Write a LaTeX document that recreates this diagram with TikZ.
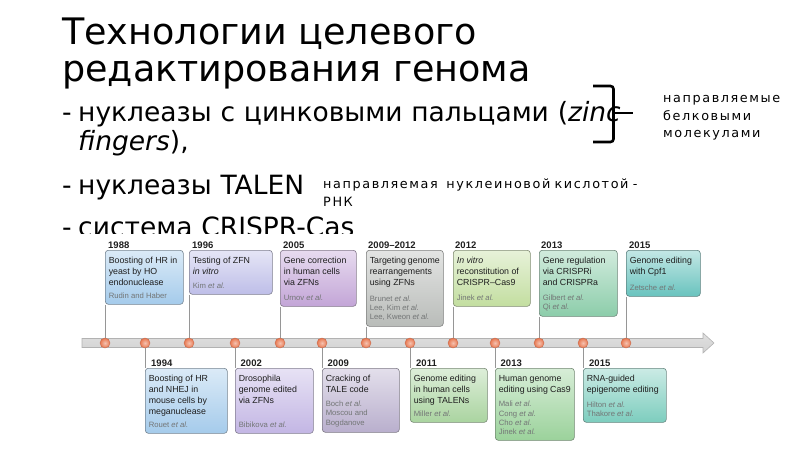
\documentclass[tikz,border=0pt]{standalone}
\usepackage{fontspec}
\setmainfont{DejaVu Sans}
\newfontfamily\boxfont{Liberation Sans}
\newfontfamily\notefont[LetterSpace=12.5]{DejaVu Sans}
\usetikzlibrary{positioning}

\definecolor{ink}{RGB}{30,30,30}
\definecolor{citegray}{RGB}{115,118,118}
\definecolor{dotcol}{RGB}{232,120,80}
\definecolor{dotedge}{RGB}{200,105,75}
\definecolor{stemgray}{RGB}{150,150,150}
% box colours, left to right
\definecolor{c88}{RGB}{165,203,235}
\definecolor{c96}{RGB}{190,190,232}
\definecolor{c05}{RGB}{195,165,215}
\definecolor{c0912}{RGB}{185,188,185}
\definecolor{c12}{RGB}{195,222,160}
\definecolor{c13}{RGB}{140,205,170}
\definecolor{c15}{RGB}{105,195,190}
\definecolor{c94}{RGB}{165,203,235}
\definecolor{c02}{RGB}{195,182,228}
\definecolor{c09}{RGB}{185,175,205}
\definecolor{c11}{RGB}{170,212,160}
\definecolor{c13b}{RGB}{155,210,155}
\definecolor{c15b}{RGB}{125,205,190}

\newcommand{\etal}{\textit{et al.}}
\newcommand{\citefont}{\fontsize{7.7}{9.3}\selectfont\color{citegray}}
\newcommand{\evtext}[4]{\parbox[t][#2pt][t]{#1pt}{\raggedright\strut#3\par\vfill{\citefont#4\par}}}

\begin{document}
\begin{tikzpicture}[x=1pt, y=-1pt,
    heading/.style={anchor=base west, inner sep=0pt, font=\fontsize{36.5}{37}\selectfont},
    bullet/.style={anchor=base west, inner sep=0pt, align=left, text width=600pt, font=\fontsize{26.5}{29}\selectfont},
    note/.style={anchor=base west, inner sep=0pt, align=left, text width=#1, font=\notefont\fontsize{12.8}{17.3}\selectfont},
    event/.style={rectangle, rounded corners=3pt, draw=#1!50!black!80, line width=0.6pt, top color=#1!40, bottom color=#1, inner xsep=3.5pt, inner ysep=5.5pt, anchor=north west, text=ink, font=\boxfont\fontsize{8.8}{11}\selectfont},
    year/.style={inner sep=0pt, text=ink, font=\boxfont\bfseries\fontsize{9.5}{11}\selectfont},
    tick/.style={circle, inner sep=0pt, minimum size=10pt, inner color=dotcol!45!white, outer color=dotcol, draw=dotedge, line width=0.4pt},
    stem/.style={draw=stemgray, line width=0.6pt}
]
\useasboundingbox (0,0) rectangle (800,449);

% slide text
\node[heading] (title1) at (62,45) {Технологии целевого};
\node[heading] (title2) at (62,82) {редактирования генома};
\node[bullet] (dashA) at (62,122) {-};
\node[bullet] (zfn) at (78,122) {нуклеазы с цинковыми пальцами (\textit{zinc}\\\textit{fingers}),};
\node[bullet] (dashB) at (62,195) {-};
\node[bullet] (talen) at (78,195) {нуклеазы TALEN};
\begin{scope}
\clip (0,0) rectangle (800,233);
\node[bullet, text width=300pt, text depth=0pt] (dashC) at (62,236.5) {-};
\node[bullet, text width=300pt, text depth=0pt] (crispr) at (78,236.5) {система CRISPR-Cas};
\end{scope}
\node[note=340pt] (rnanote) at (323,189) {направляемая\ \ нуклеиновой кислотой -\\РНК};
\node[note=140pt] (protnote) at (663,103) {направляемые\\белковыми\\молекулами};
\draw[line width=2.6pt, rounded corners=3pt] (593,86) -- (613.5,86) -- (613.5,142) -- (593,142);
\draw[line width=2.6pt] (613.5,113) -- (633,113);

% timeline
\draw[draw=gray!60, line width=0.6pt, top color=gray!25, middle color=white, bottom color=gray!35]
  (82,338.5) -- (703,338.5) -- (703,333) -- (714,343) -- (703,353) -- (703,347.5) -- (82,347.5) -- cycle;
\foreach \x [count=\i] in {105,145,189,235,280,322,366,410,453,495,539,583,626}
  \node[tick] (d\i) at (\x,343) {};

% events above the axis
\node[event=c88] (b88) at (105,250) {\evtext{71}{43}{Boosting of HR in\\yeast by HO\\endonuclease}{Rudin and Haber}};
\node[event=c96] (b96) at (189,250) {\evtext{76}{33}{Testing of ZFN\\\textit{in vitro}}{Kim \etal}};
\node[event=c05] (b05) at (280,250) {\evtext{69}{45}{Gene correction\\in human cells\\via ZFNs}{Urnov \etal}};
\node[event=c0912] (b0912) at (366,250) {\evtext{70}{65}{Targeting~genome\\rearrangements\\using ZFNs}{Brunet \etal\\Lee, Kim \etal\\Lee, Kweon \etal}};
\node[event=c12] (b12) at (453,250) {\evtext{70}{45}{\textit{In vitro}\\reconstitution of\\CRISPR–Cas9}{Jinek \etal}};
\node[event=c13] (b13) at (539,250) {\evtext{71}{55}{Gene regulation\\via CRISPRi\\and CRISPRa}{Gilbert \etal\\Qi \etal}};
\node[event=c15] (b15) at (626,250) {\evtext{67}{35}{Genome editing\\with Cpf1}{Zetsche \etal}};

% events below the axis
\node[event=c94] (b94) at (145,368) {\evtext{75}{54}{Boosting of HR\\and NHEJ in\\mouse cells by\\meganuclease}{Rouet \etal}};
\node[event=c02] (b02) at (235,368) {\evtext{71}{54}{Drosophila\\genome edited\\via ZFNs}{Bibikova \etal}};
\node[event=c09] (b09) at (322,368) {\evtext{70}{53}{Cracking of\\TALE code}{Boch \etal\\Moscou and\\Bogdanove}};
\node[event=c11] (b11) at (410,368) {\evtext{70}{43}{Genome editing\\in human cells\\using TALENs}{Miller \etal}};
\node[event=c13b] (b13b) at (495,368) {\evtext{72}{61}{Human genome\\editing~using~Cas9}{Mali \etal\\Cong \etal\\Cho \etal\\Jinek \etal}};
\node[event=c15b] (b15b) at (583,368) {\evtext{76}{43}{RNA-guided\\epigenome editing}{Hilton \etal\\Thakore \etal}};

% years
\node[year, above right=1.5pt and 3pt of b88.north west] (y88) {1988};
\node[year, above right=1.5pt and 3pt of b96.north west] (y96) {1996};
\node[year, above right=1.5pt and 3pt of b05.north west] (y05) {2005};
\node[year, above right=1.5pt and 2pt of b0912.north west] (y0912) {2009–2012};
\node[year, above right=1.5pt and 2pt of b12.north west] (y12) {2012};
\node[year, above right=1.5pt and 2pt of b13.north west] (y13) {2013};
\node[year, above right=1.5pt and 3pt of b15.north west] (y15) {2015};
\node[year, above right=1.5pt and 6pt of b94.north west] (y94) {1994};
\node[year, above right=1.5pt and 5.5pt of b02.north west] (y02) {2002};
\node[year, above right=1.5pt and 5.5pt of b09.north west] (y09) {2009};
\node[year, above right=1.5pt and 6pt of b11.north west] (y11) {2011};
\node[year, above right=1.5pt and 5.5pt of b13b.north west] (y13b) {2013};
\node[year, above right=1.5pt and 6pt of b15b.north west] (y15b) {2015};

% stems
\draw[stem] (b88.south west) -- (d1.north);
\draw[stem] (b96.south west) -- (d3.north);
\draw[stem] (b05.south west) -- (d5.north);
\draw[stem] (b0912.south west) -- (d7.north);
\draw[stem] (b12.south west) -- (d9.north);
\draw[stem] (b13.south west) -- (d11.north);
\draw[stem] (b15.south west) -- (d13.north);
\draw[stem] (d2.south) -- (b94.north west);
\draw[stem] (d4.south) -- (b02.north west);
\draw[stem] (d6.south) -- (b09.north west);
\draw[stem] (d8.south) -- (b11.north west);
\draw[stem] (d10.south) -- (b13b.north west);
\draw[stem] (d12.south) -- (b15b.north west);
\end{tikzpicture}
\end{document}
